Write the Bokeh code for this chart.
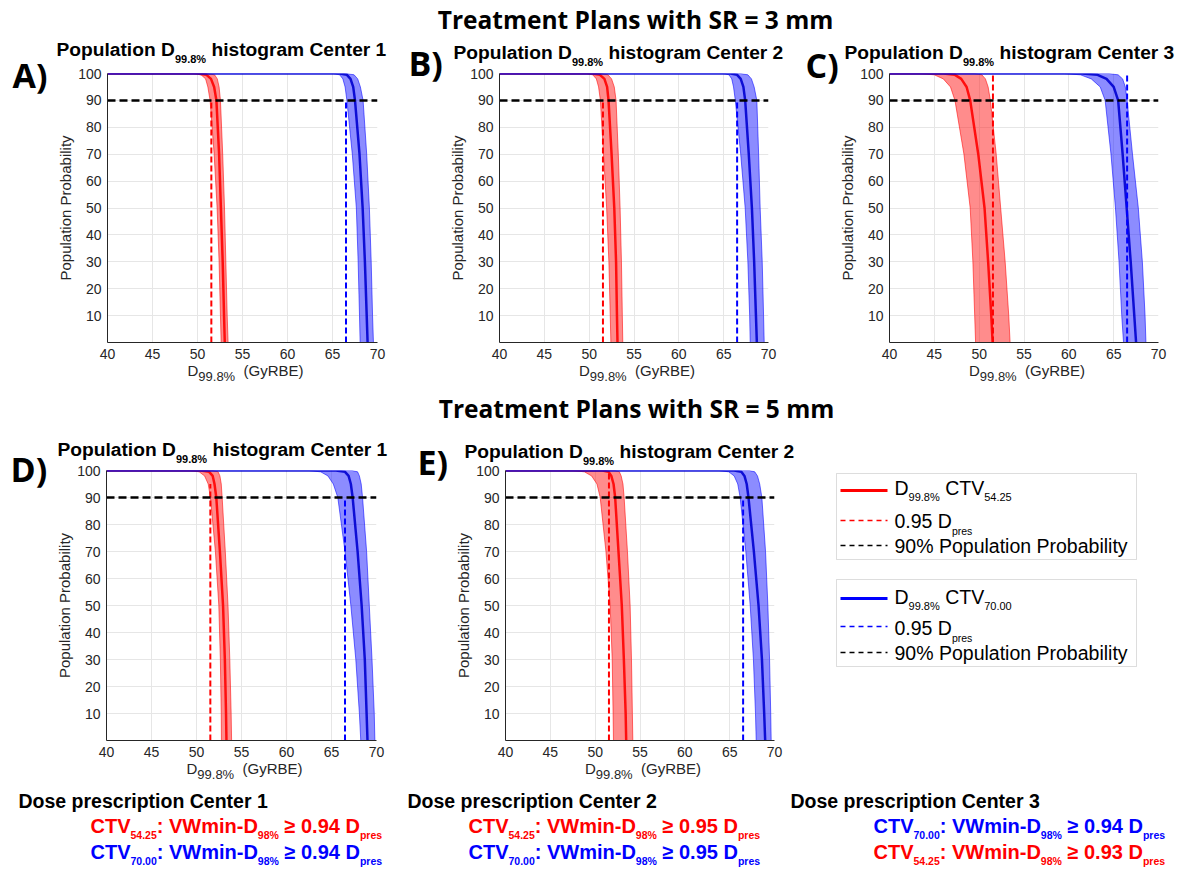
import math
from bokeh.plotting import figure
from bokeh.models import Range1d, FixedTicker, Label, BoxAnnotation
from bokeh.core.properties import value
from bokeh.layouts import column, row
from bokeh.embed import file_html
from bokeh.resources import INLINE

# ---------------- data ----------------
Y_LEVELS = [100, 99.5, 98, 95, 90, 70, 50, 30, 10, 0]
PLATEAU_X = 40
X_TICKS = [40, 45, 50, 55, 60, 65, 70]
Y_TICKS = [10, 20, 30, 40, 50, 60, 70, 80, 90, 100]
DPRES_RED = 54.25
DPRES_BLUE = 70.00
PRES_FACTOR = 0.95
POP_PROB = 90

# Panel A (SR 3 mm, Center 1)
A_red_mid = [50.0, 51.0, 51.5, 51.85, 52.1, 52.4, 52.6, 52.8, 52.95, 53.03]
A_red_lo = [49.5, 50.4, 50.9, 51.15, 51.4, 51.85, 52.18, 52.4, 52.55, 52.63]
A_red_hi = [51.0, 51.9, 52.2, 52.4, 52.55, 52.8, 53.0, 53.15, 53.3, 53.4]
A_blue_mid = [65.8, 66.6, 67.0, 67.3, 67.5, 68.0, 68.35, 68.6, 68.8, 68.9]
A_blue_lo = [65.1, 65.8, 66.15, 66.4, 66.6, 67.2, 67.65, 67.85, 68.0, 68.07]
A_blue_hi = [66.6, 67.4, 67.8, 68.1, 68.4, 68.8, 69.1, 69.3, 69.45, 69.55]
# Panel B (SR 3 mm, Center 2)
B_red_mid = [50.3, 51.2, 51.7, 52.0, 52.16, 52.5, 52.8, 53.0, 53.1, 53.16]
B_red_lo = [49.7, 50.4, 50.8, 51.05, 51.25, 51.6, 51.95, 52.2, 52.35, 52.42]
B_red_hi = [51.3, 52.1, 52.5, 52.8, 53.0, 53.25, 53.45, 53.6, 53.7, 53.75]
B_blue_mid = [65.8, 66.5, 66.9, 67.2, 67.4, 67.8, 68.15, 68.4, 68.6, 68.7]
B_blue_lo = [65.0, 65.6, 65.9, 66.1, 66.3, 66.9, 67.4, 67.7, 67.9, 67.96]
B_blue_hi = [66.9, 67.7, 68.1, 68.4, 68.7, 68.9, 69.07, 69.3, 69.45, 69.52]
# Panel C (SR 3 mm, Center 3)
C_red_mid = [46.0, 47.3, 48.0, 48.6, 49.0, 49.9, 50.6, 51.0, 51.35, 51.5]
C_red_lo = [43.5, 45.0, 46.0, 46.8, 47.3, 48.3, 49.0, 49.3, 49.5, 49.6]
C_red_hi = [49.5, 50.3, 50.7, 51.0, 51.25, 51.9, 52.4, 52.9, 53.3, 53.45]
C_blue_mid = [61.5, 63.2, 64.2, 65.0, 65.5, 66.0, 66.45, 66.9, 67.3, 67.5]
C_blue_lo = [59.5, 61.3, 62.5, 63.5, 64.05, 64.7, 65.2, 65.6, 65.9, 66.1]
C_blue_hi = [64.5, 65.5, 66.0, 66.3, 66.5, 67.1, 67.75, 68.2, 68.5, 68.6]
# Panel D (SR 5 mm, Center 1)
D_red_mid = [50.5, 51.4, 51.8, 52.0, 52.2, 52.6, 52.95, 53.15, 53.28, 53.33]
D_red_lo = [49.3, 50.3, 50.9, 51.3, 51.55, 52.1, 52.48, 52.65, 52.75, 52.77]
D_red_hi = [51.8, 52.4, 52.6, 52.75, 52.85, 53.2, 53.5, 53.7, 53.85, 53.9]
D_blue_mid = [65.5, 66.5, 66.9, 67.15, 67.35, 67.9, 68.35, 68.7, 68.9, 69.0]
D_blue_lo = [62.5, 63.8, 64.6, 65.2, 65.7, 66.5, 67.15, 67.7, 68.1, 68.25]
D_blue_hi = [67.3, 67.9, 68.1, 68.3, 68.45, 68.9, 69.2, 69.5, 69.75, 69.82]
# Panel E (SR 5 mm, Center 2)
E_red_mid = [50.8, 51.5, 51.8, 52.05, 52.23, 52.6, 52.97, 53.2, 53.4, 53.46]
E_red_lo = [47.5, 48.8, 49.6, 50.2, 50.56, 51.2, 51.67, 51.9, 52.0, 52.04]
E_red_hi = [52.2, 52.7, 52.9, 53.1, 53.23, 53.6, 53.9, 54.05, 54.15, 54.2]
E_blue_mid = [65.5, 66.3, 66.65, 66.9, 67.1, 67.7, 68.22, 68.6, 68.85, 68.96]
E_blue_lo = [63.8, 64.9, 65.5, 65.9, 66.17, 66.8, 67.29, 67.65, 67.88, 67.96]
E_blue_hi = [67.2, 67.8, 68.1, 68.35, 68.59, 69.0, 69.26, 69.45, 69.58, 69.63]

# top of the 0.95 Dpres dashed markers, per panel A..E
DASH_TOP_RED = [90, 90, 100, 95, 100]
DASH_TOP_BLUE = [90, 90, 100, 90, 90]

PANEL_LETTERS = ["A)", "B)", "C)", "D)", "E)"]
PANEL_CENTERS = ["1", "2", "3", "1", "2"]
MAIN_TITLES = ["Treatment Plans with SR = 3 mm", "Treatment Plans with SR = 5 mm"]
FOOTER_CENTERS = ["1", "2", "3"]
FOOTER_RULES = [
    [("54.25", "0.94", "red"), ("70.00", "0.94", "blue")],
    [("54.25", "0.95", "red"), ("70.00", "0.95", "blue")],
    [("70.00", "0.94", "blue"), ("54.25", "0.93", "red")],
]

# ---------------- helpers ----------------
RED = "#ff0000"
BLUE = "#0000ff"
TXT = "#262626"
FONT = "Liberation Sans"
MID = 0.35  # distance baseline -> middle of the text, in font sizes

AR = {' ': 278, '%': 889, '(': 333, ')': 333, '-': 333, '.': 278, ':': 278, '\u2265': 549,
      'B': 667, 'C': 722, 'D': 722, 'E': 667, 'G': 778, 'P': 667, 'R': 722, 'T': 611, 'V': 667,
      'W': 944, 'a': 556, 'b': 556, 'c': 500, 'd': 556, 'e': 556, 'g': 556, 'h': 556, 'i': 222,
      'l': 222, 'm': 833, 'n': 556, 'o': 556, 'p': 556, 'r': 333, 's': 500, 't': 278, 'u': 556,
      'y': 500}
ARB = {' ': 278, '%': 889, '(': 333, ')': 333, '-': 333, '.': 278, ':': 333, '\u2265': 549,
       'C': 722, 'D': 722, 'P': 667, 'T': 611, 'V': 667, 'W': 944, 'a': 556, 'b': 611, 'c': 556,
       'e': 556, 'g': 611, 'h': 611, 'i': 278, 'l': 278, 'm': 889, 'n': 611, 'o': 611, 'p': 611,
       'r': 389, 's': 556, 't': 333, 'u': 611, 'y': 556}


def tw(s, bold, size):
    tab = ARB if bold else AR
    return sum(tab.get(c, 556) for c in s) / 1000.0 * size


def rich_width(parts, size, sub_size, bold):
    return sum(tw(t, bold, sub_size if s else size) for t, s in parts)


def put_text(p, x, y, text, size, color, bold, rng=None, font=FONT, angle=0.0,
             align="left", baseline_shift=True):
    """y is the text baseline (page px); drawn with a 'middle' baseline."""
    style = "bold" if bold else "normal"
    ym = y - MID * size if baseline_shift else y
    if rng is None:
        p.add_layout(Label(x=x, y=ym, text=text, text_font=font, text_font_size=f"{size}px",
                           text_font_style=style, text_color=color, text_align=align,
                           text_baseline="middle", angle=angle))
    else:
        p.text(x=[x], y=[ym], text=[text], x_range_name=rng, y_range_name=rng, level="overlay",
               text_font=value(font), text_font_size=value(f"{size}px"),
               text_font_style=value(style), text_color=color, text_align=align,
               text_baseline="middle", angle=angle)


def rich(p, x, y, parts, size, sub_size, sub_dy, color, bold, rng=None):
    for txt, sub in parts:
        fs = sub_size if sub else size
        lead = len(txt) - len(txt.lstrip(' '))
        trail = len(txt) - len(txt.rstrip(' '))
        x += tw(' ' * lead, bold, fs)
        core = txt.strip(' ')
        put_text(p, x, y + (sub_dy if sub else 0), core, fs, color, bold, rng)
        x += tw(core, bold, fs) + tw(' ' * trail, bold, fs)


def strip(ox, oy, w, h, top=0, bottom=0):
    p = figure(width=w, height=h, x_range=Range1d(ox, ox + w),
               y_range=Range1d(oy + h - bottom, oy + top),
               x_axis_type=None, y_axis_type=None, min_border=0,
               min_border_top=top, min_border_bottom=bottom,
               toolbar_location=None, output_backend="svg")
    p.grid.visible = False
    p.outline_line_color = None
    p.background_fill_color = "white"
    p.border_fill_color = "white"
    return p


def panel(i, fig_box, frame, red, blue, title_pos, letter_pos):
    ox, oy, w, h = fig_box
    fl, fr, ft, fb = frame
    p = figure(width=w, height=h, x_range=Range1d(40, 70), y_range=Range1d(0, 100),
               min_border_left=fl - ox, min_border_right=ox + w - fr,
               min_border_top=ft - oy, min_border_bottom=oy + h - fb,
               toolbar_location=None, output_backend="svg")
    p.outline_line_color = None
    p.extra_x_ranges = {"px": Range1d(fl, fr)}
    p.extra_y_ranges = {"px": Range1d(fb, ft)}
    p.xaxis.ticker = FixedTicker(ticks=X_TICKS)
    p.yaxis.ticker = FixedTicker(ticks=Y_TICKS)
    p.xgrid.ticker = FixedTicker(ticks=X_TICKS)
    p.ygrid.ticker = FixedTicker(ticks=Y_TICKS)
    p.grid.grid_line_color = "#e6e6e6"
    p.grid.grid_line_width = 1
    for ax in (p.xaxis[0], p.yaxis[0]):
        ax.axis_line_color = TXT
        ax.axis_line_width = 1
        ax.major_tick_out = 0
        ax.major_tick_in = 0
        ax.minor_tick_out = 0
        ax.minor_tick_in = 0
        ax.major_label_text_font = FONT
        ax.major_label_text_font_size = "14px"
        ax.major_label_text_color = TXT
        ax.major_label_standoff = 6

    dash_x = [DPRES_RED * PRES_FACTOR, DPRES_BLUE * PRES_FACTOR]
    dash_top = [DASH_TOP_RED[i], DASH_TOP_BLUE[i]]
    for (mid, lo, hi), col, fill, line_col, dx, dt in zip(
            (red, blue), (RED, BLUE), ("#ff1a1a", "#1a1aff"), (RED, "#0000d0"), dash_x, dash_top):
        p.harea(y=Y_LEVELS, x1=lo, x2=hi, fill_color=fill, fill_alpha=0.5)
        p.line([PLATEAU_X] + lo, [100] + Y_LEVELS, line_color=col, line_alpha=0.55, line_width=1)
        p.line([PLATEAU_X] + hi, [100] + Y_LEVELS, line_color=col, line_alpha=0.55, line_width=1)
        p.line([PLATEAU_X] + mid, [100] + Y_LEVELS, line_color=line_col, line_alpha=0.9,
               line_width=2.5)
        p.line([dx, dx], [0, dt], line_color=col, line_width=2, line_dash="6 3")
    p.line([40, 70], [POP_PROB, POP_PROB], line_color="black", line_width=2.5, line_dash="8 4")

    # titles and axis labels (page-pixel coordinates through the "px" ranges)
    rich(p, title_pos[0], title_pos[1],
         [("Population D", 0), ("99.8%", 1), (" histogram Center " + PANEL_CENTERS[i], 0)],
         19.2, 11, 6, "black", True, "px")
    put_text(p, letter_pos[0], letter_pos[1], PANEL_LETTERS[i], 34, "black", True, "px",
             font="Open Sans")
    put_text(p, fl - 42, (ft + fb) / 2, "Population Probability", 15, TXT, False, "px",
             angle=math.pi / 2, align="center", baseline_shift=False)
    xl = [("D", 0), ("99.8%", 1), ("  (GyRBE)", 0)]
    wxl = rich_width(xl, 15, 13, False)
    rich(p, (fl + fr) / 2 + 3 - wxl / 2, fb + 33, xl, 15, 13, 6, TXT, False, "px")
    return p


# ---------------- build ----------------
# frames that share a row share their top and bottom edge
R1_TOP, R1_BOT = 73, 342
R2_TOP, R2_BOT = 470, 740

t1 = strip(0, 0, 1188, 40)
put_text(t1, 635, 28, MAIN_TITLES[0], 24.5, "black", True, font="Open Sans", align="center")

pA = panel(0, (0, 40, 400, 350), (107, 377, R1_TOP, R1_BOT), (A_red_mid, A_red_lo, A_red_hi),
           (A_blue_mid, A_blue_lo, A_blue_hi), (56, 56), (12, 86))
pB = panel(1, (400, 40, 390, 350), (499, 768, R1_TOP, R1_BOT), (B_red_mid, B_red_lo, B_red_hi),
           (B_blue_mid, B_blue_lo, B_blue_hi), (453, 59), (408, 74))
pC = panel(2, (790, 40, 398, 350), (889, 1158, R1_TOP, R1_BOT), (C_red_mid, C_red_lo, C_red_hi),
           (C_blue_mid, C_blue_lo, C_blue_hi), (844, 59), (805, 76))

t2 = strip(0, 390, 1188, 42)
put_text(t2, 636, 417, MAIN_TITLES[1], 24.5, "black", True, font="Open Sans", align="center")

pD = panel(3, (0, 432, 400, 353), (106, 376, R2_TOP, R2_BOT), (D_red_mid, D_red_lo, D_red_hi),
           (D_blue_mid, D_blue_lo, D_blue_hi), (57, 456), (10, 480))
pE = panel(4, (400, 432, 420, 353), (505, 774, R2_TOP, R2_BOT), (E_red_mid, E_red_lo, E_red_hi),
           (E_blue_mid, E_blue_lo, E_blue_hi), (464, 458), (417, 473))

# legend (its frame lines up with the neighbouring panel frames)
lg = strip(820, 432, 368, 353, top=R2_TOP - 432, bottom=785 - R2_BOT)
for top, bottom in ((473, 559), (579, 666)):
    lg.add_layout(BoxAnnotation(left=836, right=1136, top=top, bottom=bottom, fill_color=None,
                                line_color="#8f8f8f", line_width=1))
for col, ys, bases, ctv in ((RED, (490, 520, 545), (494, 527, 552), "54.25"),
                            (BLUE, (598, 626, 652), (603, 634, 659), "70.00")):
    lg.line([840, 887], [ys[0], ys[0]], line_color=col, line_width=3)
    lg.line([840, 887], [ys[1], ys[1]], line_color=col, line_width=1.5, line_dash="5 4")
    lg.line([840, 887], [ys[2], ys[2]], line_color="black", line_width=1.5, line_dash="5 4")
    rich(lg, 894, bases[0], [("D", 0), ("99.8%", 1), (" CTV", 0), (ctv, 1)], 19.5, 11, 6,
         "black", False)
    rich(lg, 894, bases[1], [("0.95 D", 0), ("pres", 1)], 19.5, 10.5, 7, "black", False)
    rich(lg, 894, bases[2], [("90% Population Probability", 0)], 19.5, 11, 6, "black", False)

# footer
ft = strip(0, 785, 1188, 88)
for (tx, lx), cen, rules in zip(((18, 90), (407, 468), (790, 873)), FOOTER_CENTERS,
                                FOOTER_RULES):
    rich(ft, tx, 807, [("Dose prescription Center " + cen, 0)], 19.5, 10, 6, "black", True)
    for (ctv, frac, cname), base in zip(rules, (832, 858)):
        col = RED if cname == "red" else BLUE
        rich(ft, lx, base, [("CTV", 0), (ctv, 1), (": VWmin-D", 0), ("98%", 1),
                            (" \u2265 " + frac + " D", 0), ("pres", 1)],
             20, 10.5, 6, col, True)

layout = column(t1, row(pA, pB, pC), t2, row(pD, pE, lg), ft)
open("out.html", "w").write(file_html(layout, INLINE))
